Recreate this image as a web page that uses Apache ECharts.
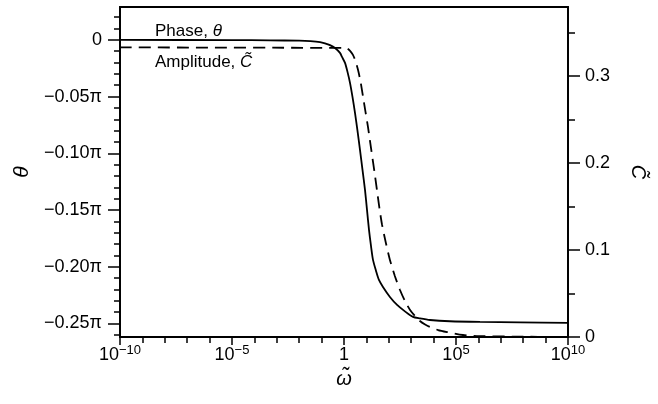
<!DOCTYPE html>
<html>
<head>
<meta charset="utf-8">
<script src="https://cdn.jsdelivr.net/npm/echarts@6/dist/echarts.min.js"></script>
<style>html,body{margin:0;padding:0;background:#fff}#c{width:658px;height:404px}</style>
</head>
<body>
<div id="c"></div>
<script>
// x values are log10(omega~)
const phaseLogOmega = [-10, -5, -3.3, -2, -1.5, -1.07, -0.85, -0.625, -0.4, -0.18, -0.089, 0.045, 0.156, 0.268, 0.379, 0.491, 0.603, 0.714, 0.826, 0.9375, 1.027, 1.116, 1.205, 1.295, 1.43, 1.56, 1.74, 2.05, 2.37, 2.72, 3.08, 3.39, 3.84, 4.73, 6.07, 7.86, 10];
const phaseOverPi   = [0, -0.0002, -0.0004, -0.0007, -0.0011, -0.0019, -0.003, -0.0046, -0.0072, -0.0115, -0.015, -0.0203, -0.0282, -0.0379, -0.0503, -0.0644, -0.0803, -0.097, -0.1147, -0.1323, -0.1499, -0.1676, -0.1817, -0.194, -0.2037, -0.2117, -0.2179, -0.2267, -0.2337, -0.2394, -0.2443, -0.2456, -0.247, -0.2481, -0.2487, -0.2491, -0.2495];
const ampLogOmega = [-10, 0, 0.13, 0.27, 0.40, 0.51, 0.625, 0.74, 0.85, 0.96, 1.07, 1.16, 1.25, 1.36, 1.47, 1.58, 1.70, 1.87, 2.05, 2.27, 2.50, 2.72, 2.95, 3.17, 3.39, 3.62, 3.84, 4.20, 4.60, 5.31, 6.07, 7.54, 10];
const amplitude   = [0.3326, 0.332, 0.3316, 0.3287, 0.3241, 0.3172, 0.3069, 0.2931, 0.2759, 0.2586, 0.2414, 0.2253, 0.2092, 0.1897, 0.169, 0.1483, 0.1287, 0.108, 0.0885, 0.0701, 0.054, 0.0414, 0.031, 0.0241, 0.0184, 0.0144, 0.0115, 0.008, 0.0057, 0.0023, 0.0011, 0.0005, 0];
const thetaMajorTicks = [0, -0.05, -0.10, -0.15, -0.20, -0.25];
const thetaMinorTicks = [0.02, 0.01, -0.01, -0.02, -0.03, -0.04, -0.06, -0.07, -0.08, -0.09, -0.11, -0.12, -0.13, -0.14, -0.16, -0.17, -0.18, -0.19, -0.21, -0.22, -0.23, -0.24, -0.26];
const ampMajorTicks = [0, 0.1, 0.2, 0.3];
const ampMinorTicks = [0.05, 0.15, 0.25, 0.35];

const FONT = "'Liberation Sans', Arial, Helvetica, sans-serif";
const BLACK = '#000';
const axisLineStyle = { color: BLACK, width: 1.8 };
const tickStyle = { color: BLACK, width: 1.5 };

function zip(xs, ys) { return xs.map((x, i) => [x, ys[i]]); }

const chart = echarts.init(document.getElementById('c'), null, { renderer: 'canvas' });
chart.setOption({
  animation: false,
  backgroundColor: '#fff',
  grid: { left: 120, right: 90, top: 7, bottom: 67, containLabel: false, outerBoundsMode: 'none', show: true, borderColor: BLACK, borderWidth: 1.8, backgroundColor: 'transparent' },
  xAxis: [{
    type: 'value', min: -10, max: 10, interval: 5, position: 'bottom',
    axisLine: { show: true, onZero: false, lineStyle: axisLineStyle },
    axisTick: { show: true, length: 8, lineStyle: tickStyle },
    minorTick: { show: true, splitNumber: 5, length: 6, lineStyle: tickStyle },
    splitLine: { show: false },
    axisLabel: {
      margin: 7, color: BLACK, fontFamily: FONT, fontSize: 18,
      formatter: function (v) {
        if (v === 0) return '{b|1}';
        return '{b|10}{s|' + (v < 0 ? '\u2212' : '') + Math.abs(v) + '}';
      },
      rich: {
        b: { fontSize: 18, fontFamily: FONT, color: BLACK, lineHeight: 23 },
        s: { fontSize: 13, fontFamily: FONT, color: BLACK, lineHeight: 10, verticalAlign: 'top' }
      }
    },
    name: '\u03C9\u0303', nameLocation: 'middle', nameGap: 31,
    nameTextStyle: { fontFamily: FONT, fontSize: 20, fontStyle: 'italic', color: BLACK }
  }],
  yAxis: [{
    type: 'value', min: -0.262, max: 0.029, position: 'left',
    axisLine: { show: true, onZero: false, lineStyle: axisLineStyle },
    axisTick: { show: true, length: 12, lineStyle: tickStyle, customValues: thetaMajorTicks },
    splitLine: { show: false },
    axisLabel: {
      margin: 18, color: BLACK, fontFamily: FONT, fontSize: 18, customValues: thetaMajorTicks,
      formatter: function (v) { return Math.abs(v) < 1e-9 ? '0' : '\u2212' + Math.abs(v).toFixed(2) + '\u03C0'; }
    },
    name: '\u03B8', nameLocation: 'middle', nameRotate: 90, nameGap: 86,
    nameTextStyle: { fontFamily: FONT, fontSize: 21, fontStyle: 'italic', color: BLACK }
  }, {
    type: 'value', min: -0.262, max: 0.029, position: 'left',
    axisLine: { show: false, onZero: false },
    axisTick: { show: true, length: 6, lineStyle: tickStyle, customValues: thetaMinorTicks },
    splitLine: { show: false },
    axisLabel: { show: false }
  }, {
    type: 'value', min: 0, max: 0.379, position: 'right',
    axisLine: { show: true, onZero: false, lineStyle: axisLineStyle },
    axisTick: { show: true, length: 12, lineStyle: tickStyle, customValues: ampMajorTicks },
    splitLine: { show: false },
    axisLabel: {
      margin: 17, color: BLACK, fontFamily: FONT, fontSize: 18, customValues: ampMajorTicks,
      formatter: function (v) { return v === 0 ? '0' : v.toFixed(1); }
    },
    name: 'C\u0303', nameLocation: 'middle', nameRotate: -90, nameGap: 60,
    nameTextStyle: { fontFamily: FONT, fontSize: 20, fontStyle: 'italic', color: BLACK }
  }, {
    type: 'value', min: 0, max: 0.379, position: 'right',
    axisLine: { show: false, onZero: false },
    axisTick: { show: true, length: 7, lineStyle: tickStyle, customValues: ampMinorTicks },
    splitLine: { show: false },
    axisLabel: { show: false }
  }],
  series: [{
    name: 'Phase', type: 'line', xAxisIndex: 0, yAxisIndex: 0,
    data: zip(phaseLogOmega, phaseOverPi),
    showSymbol: false, smooth: 0.25,
    lineStyle: { color: BLACK, width: 1.8, type: 'solid' }
  }, {
    name: 'Amplitude', type: 'line', xAxisIndex: 0, yAxisIndex: 2,
    data: zip(ampLogOmega, amplitude),
    showSymbol: false, smooth: 0.25,
    lineStyle: { color: BLACK, width: 1.8, type: [12, 7] }
  }],
  graphic: [{
    type: 'text', x: 155, y: 31,
    style: {
      text: 'Phase, {i|\u03B8}', fill: BLACK, fontFamily: FONT, fontSize: 17, verticalAlign: 'middle', align: 'left',
      rich: { i: { fontStyle: 'italic', fontFamily: FONT, fontSize: 17, fill: BLACK } }
    }
  }, {
    type: 'text', x: 155, y: 62,
    style: {
      text: 'Amplitude, {i|C\u0303}', fill: BLACK, fontFamily: FONT, fontSize: 17, verticalAlign: 'middle', align: 'left',
      rich: { i: { fontStyle: 'italic', fontFamily: FONT, fontSize: 17, fill: BLACK } }
    }
  }]
});
</script>
</body>
</html>
